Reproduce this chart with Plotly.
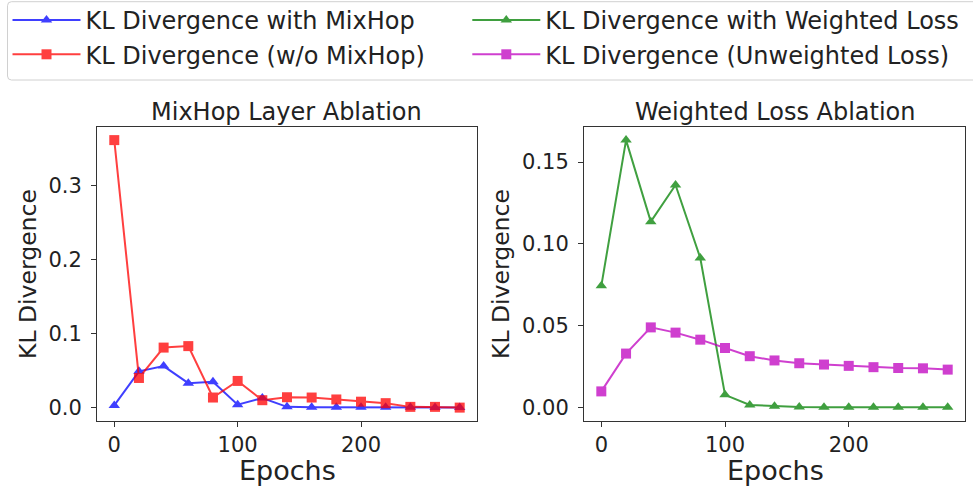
import plotly.graph_objects as go

epochs = [0, 20, 40, 60, 80, 100, 120, 140, 160, 180, 200, 220, 240, 260, 280]
kl_with_mixhop = [0.003, 0.049, 0.056, 0.033, 0.035, 0.004, 0.013, 0.001, 0.0005, 0.0005, 0.0005, 0.0005, 0.0004, 0.0003, 0.0002]
kl_without_mixhop = [0.361, 0.040, 0.081, 0.083, 0.0136, 0.036, 0.010, 0.014, 0.0136, 0.011, 0.008, 0.006, 0.001, 0.001, 0.0]
kl_weighted = [0.0744, 0.1634, 0.1136, 0.136, 0.0914, 0.0078, 0.0016, 0.0008, 0.0003, 0.0002, 0.0002, 0.0002, 0.0002, 0.0002, 0.0002]
kl_unweighted = [0.0099, 0.033, 0.049, 0.0458, 0.0415, 0.0364, 0.0314, 0.0288, 0.0271, 0.0263, 0.0255, 0.0247, 0.0242, 0.024, 0.0232]

FONT = "DejaVu Sans"
TXT = "#222222"
W, H = 973, 486
fig = go.Figure()

def add(y, name, color, symbol, xa, ya, legend):
    fig.add_trace(go.Scatter(
        x=epochs, y=y, name=name, mode="lines+markers",
        line=dict(color=color, width=2),
        marker=dict(color=color, symbol=symbol, size=10),
        opacity=0.75, xaxis=xa, yaxis=ya, legend=legend))

add(kl_with_mixhop, "KL Divergence with MixHop", "#0000ff", "triangle-up", "x", "y", "legend")
add(kl_without_mixhop, "KL Divergence (w/o MixHop)", "#ff0000", "square", "x", "y", "legend")
add(kl_weighted, "KL Divergence with Weighted Loss", "#008000", "triangle-up", "x2", "y2", "legend2")
add(kl_unweighted, "KL Divergence (Unweighted Loss)", "#bf00bf", "square", "x2", "y2", "legend2")

axis_common = dict(showline=True, mirror=True, linecolor="#333333", linewidth=1,
                   ticks="outside", ticklen=5, tickcolor="#333333", showgrid=False,
                   zeroline=False, automargin=False,
                   tickfont=dict(family=FONT, size=21, color=TXT))

legend_common = dict(orientation="v", yanchor="top", xanchor="left", y=1 + 2 / H,
                     borderwidth=0, bgcolor="rgba(0,0,0,0)", tracegroupgap=0,
                     font=dict(family=FONT, size=24, color=TXT), itemwidth=68)

fig.update_layout(
    width=W, height=H,
    margin=dict(l=0, r=0, t=0, b=0, autoexpand=False),
    paper_bgcolor="white", plot_bgcolor="white",
    font=dict(family=FONT, color=TXT),
    xaxis=dict(domain=[0.0997, 0.4902], range=[-14, 294], tickvals=[0, 100, 200], anchor="y", **axis_common),
    yaxis=dict(domain=[0.1337, 0.7393], range=[-0.0181, 0.3791], tickvals=[0, 0.1, 0.2, 0.3],
               tickformat=".1f", anchor="x", ticklabelstandoff=5, **axis_common),
    xaxis2=dict(domain=[0.6002, 0.9918], range=[-14, 294], tickvals=[0, 100, 200], anchor="y2", **axis_common),
    yaxis2=dict(domain=[0.1337, 0.7393], range=[-0.0082, 0.1716], tickvals=[0, 0.05, 0.1, 0.15],
                tickformat=".2f", anchor="x2", ticklabelstandoff=5, **axis_common),
    legend=dict(x=7.5 / W, **legend_common),
    legend2=dict(x=467.3 / W, **legend_common),
    showlegend=True,
)

# legend frame (rounded, light grey), running off the right edge like the reference
x0, x1, y0, y1, r = 7.5, 990.0, 1.7, 80.0, 4.0
def px(x, y):
    return f"{x / W:.5f},{1 - y / H:.5f}"
path = (f"M{px(x0 + r, y0)} L{px(x1, y0)} L{px(x1, y1)} L{px(x0 + r, y1)} "
        f"Q{px(x0, y1)} {px(x0, y1 - r)} L{px(x0, y0 + r)} Q{px(x0, y0)} {px(x0 + r, y0)} Z")
fig.add_shape(type="path", path=path, xref="paper", yref="paper",
              line=dict(color="#d0d0d0", width=1), fillcolor="rgba(255,255,255,0.8)", layer="below")

ann = [
    dict(text="MixHop Layer Ablation", x=286, y=112, size=24),
    dict(text="Weighted Loss Ablation", x=775, y=112, size=24),
    dict(text="Epochs", x=287, y=470, size=27),
    dict(text="Epochs", x=775, y=470, size=27),
]
for a in ann:
    fig.add_annotation(text=a["text"], x=a["x"] / W, y=1 - a["y"] / H, xref="paper", yref="paper",
                       showarrow=False, xanchor="center", yanchor="middle",
                       font=dict(family=FONT, size=a["size"], color=TXT))
for xpos in (28, 501):
    fig.add_annotation(text="KL Divergence", x=xpos / W, y=1 - 274 / H, xref="paper", yref="paper",
                       showarrow=False, textangle=-90, xanchor="center", yanchor="middle",
                       font=dict(family=FONT, size=23.5, color=TXT))

fig.write_html("out.html", config={"displayModeBar": False},
               post_script="document.body.style.margin='0px';document.body.style.overflow='hidden';")
